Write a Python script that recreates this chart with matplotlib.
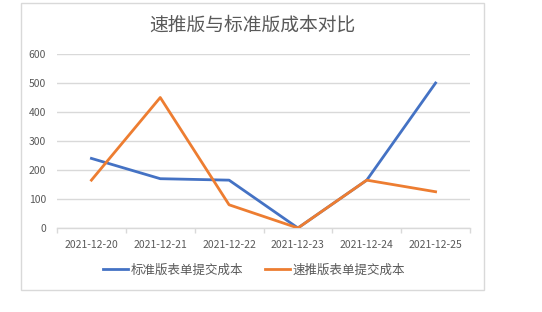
import matplotlib
matplotlib.use("Agg")
import matplotlib.pyplot as plt
from matplotlib.patches import Rectangle

plt.rcParams['font.family'] = ['Noto Sans CJK SC', 'DejaVu Sans']

dates = ["2021-12-20", "2021-12-21", "2021-12-22", "2021-12-23", "2021-12-24", "2021-12-25"]
standard_cost = [240, 170, 165, 0, 165, 500]
quick_cost = [165, 450, 80, 0, 165, 125]
series_names = ["标准版表单提交成本", "速推版表单提交成本"]
title = "速推版与标准版成本对比"
yticks = [0, 100, 200, 300, 400, 500, 600]

W, H = 542, 312
fig = plt.figure(figsize=(W / 100, H / 100), dpi=100)
fig.patch.set_facecolor("white")

# chart frame
fig.add_artist(Rectangle((21 / W, 1 - 290 / H), (484 - 21) / W, (290 - 3) / H,
                         transform=fig.transFigure, fill=False,
                         edgecolor="#d9d9d9", linewidth=1.0))

ax = fig.add_axes([57 / W, 1 - 228 / H, (470 - 57) / W, (228 - 54) / H])
x = list(range(len(dates)))
ax.plot(x, standard_cost, color="#4472C4", linewidth=2.0, label=series_names[0],
        solid_joinstyle="round", zorder=3)
ax.plot(x, quick_cost, color="#ED7D31", linewidth=2.0, label=series_names[1],
        solid_joinstyle="round", zorder=3)

ax.set_xlim(-0.5, len(dates) - 0.5)
ax.set_ylim(0, 600)
ax.set_yticks(yticks)
ax.set_xticks(x)
ax.set_xticklabels(dates)
ax.set_xticks([i - 0.5 for i in range(len(dates) + 1)], minor=True)

ax.grid(axis="y", color="#d9d9d9", linewidth=1.0)
ax.set_axisbelow(True)
for side in ["top", "right", "left"]:
    ax.spines[side].set_visible(False)
ax.spines["bottom"].set_color("#d9d9d9")
ax.spines["bottom"].set_linewidth(1.0)

ax.tick_params(axis="y", length=0, pad=8, labelsize=7.5, labelcolor="#595959")
ax.tick_params(axis="x", which="major", length=0, pad=9, labelsize=7.5, labelcolor="#595959")
ax.tick_params(axis="x", which="minor", length=3.5, width=1.0, color="#d9d9d9")

fig.text(252 / W, 1 - 25 / H, title, ha="center", va="center",
         fontsize=13.5, color="#595959")

fig.legend(loc="center", bbox_to_anchor=(254 / W, 1 - 270 / H), ncol=2,
           frameon=False, fontsize=9, labelcolor="#595959",
           handlelength=2.0, handletextpad=0.2, columnspacing=1.8)

fig.savefig("out.png", dpi=100)
